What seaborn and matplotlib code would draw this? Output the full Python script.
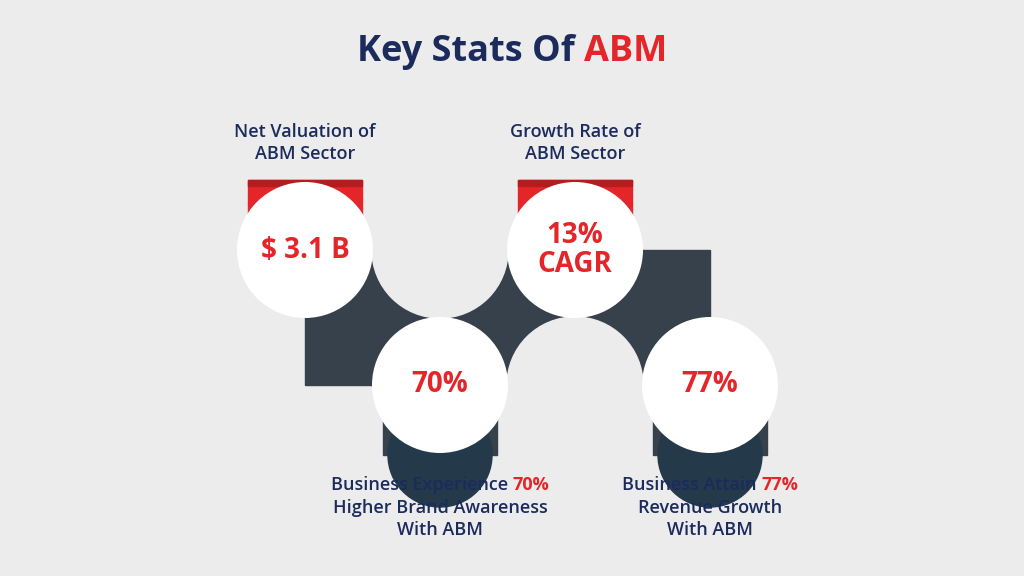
import matplotlib
matplotlib.use("Agg")
import matplotlib.pyplot as plt
from matplotlib.patches import Circle, Rectangle
import seaborn as sns
import pandas as pd

sns.set_theme(style="white")
plt.rcParams['font.family'] = ['Open Sans', 'DejaVu Sans']

title_main = "Key Stats Of "
title_accent = "ABM"
values = ["$ 3.1 B", "70%", "13%\nCAGR", "77%"]
labels_top = ["Net Valuation of\nABM Sector", None, "Growth Rate of\nABM Sector", None]
labels_bottom = [None, ("Business Experience ", "70%", "Higher Brand Awareness\nWith ABM"), None,
                 ("Business Attain ", "77%", "Revenue Growth\nWith ABM")]

NAVY = "#1b2b5b"; RED = "#e4262b"; DARK = "#36414b"; BG = "#ececec"

fig = plt.figure(figsize=(10.24, 5.76), dpi=100)
fig.patch.set_facecolor(BG)
ax = fig.add_axes([0, 0, 1, 1])
ax.set_facecolor(BG)

x0, dx, ytop, ybot, r = 305, 135, 250, 385, 68
pts = pd.DataFrame({"x": [x0 + i * dx for i in range(len(values))],
                    "y": [ytop if i % 2 == 0 else ybot for i in range(len(values))]})

ax.add_patch(Rectangle((x0, ytop), dx * 3, ybot - ytop, color=DARK, zorder=1))
for (cx, cy) in [(x0 + dx, ytop), (x0 + 2 * dx, ybot)]:
    ax.add_patch(Circle((cx, cy), r, color=BG, zorder=2))

for i, row in pts.iterrows():
    if i % 2 == 0:
        ax.add_patch(Rectangle((row.x - 57, row.y - 70), 114, 36, color=RED, zorder=2))
        ax.add_patch(Rectangle((row.x - 57, row.y - 70), 114, 6, color="#b51c20", zorder=2))
    else:
        ax.add_patch(Rectangle((row.x - 57, row.y + 25), 114, 45, color=DARK, zorder=2))
        ax.add_patch(Circle((row.x, row.y + 70), 52, color="#24394a", zorder=2.5))

sns.scatterplot(data=pts, x="x", y="y", s=(2 * r * 0.72) ** 2, color="white",
                edgecolor="none", ax=ax, zorder=3, legend=False)
ax.set_xlim(0, 1024); ax.set_ylim(576, 0); ax.axis("off")

def width(s, weight):
    t = ax.text(0, 0, s, fontsize=13, fontweight=weight)
    fig.canvas.draw()
    w = t.get_window_extent().width
    t.remove()
    return w

for i, row in pts.iterrows():
    ax.text(row.x, row.y, values[i], ha="center", va="center", color=RED,
            fontsize=20, fontweight="bold", zorder=4, linespacing=1.0)
    if labels_top[i]:
        ax.text(row.x, 143, labels_top[i], ha="center", va="center", color=NAVY,
                fontsize=13, fontweight="semibold", linespacing=1.3)
    if labels_bottom[i]:
        a, b, c = labels_bottom[i]
        wa, wb = width(a, "semibold"), width(b, "bold")
        left = row.x - (wa + wb) / 2
        ax.text(left, 485, a, ha="left", va="center", color=NAVY, fontsize=13, fontweight="semibold")
        ax.text(left + wa, 485, b, ha="left", va="center", color=RED, fontsize=13, fontweight="bold")
        ax.text(row.x, 519, c, ha="center", va="center", color=NAVY, fontsize=13,
                fontweight="semibold", linespacing=1.3)

tt = ax.text(0, 0, title_main, fontsize=26, fontweight="bold")
ta = ax.text(0, 0, title_accent, fontsize=26, fontweight="bold")
fig.canvas.draw()
w1 = tt.get_window_extent().width; w2 = ta.get_window_extent().width
tt.remove(); ta.remove()
left = 512 - (w1 + w2) / 2
ax.text(left, 52, title_main, ha="left", va="center", color=NAVY, fontsize=26, fontweight="bold")
ax.text(left + w1, 52, title_accent, ha="left", va="center", color=RED, fontsize=26, fontweight="bold")

fig.savefig("out.png", dpi=100, facecolor=BG)
